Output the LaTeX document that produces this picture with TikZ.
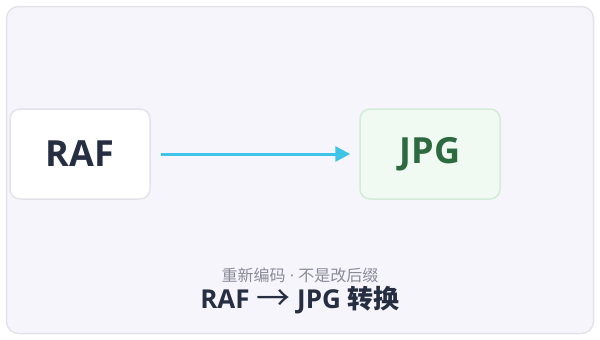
\documentclass[tikz,border=0pt]{standalone}
\usepackage{fontspec}
\setmainfont{Open Sans}
\newfontfamily\cjk{Noto Sans CJK SC}
\usetikzlibrary{arrows.meta}
\definecolor{pagebg}{HTML}{F6F5FB}
\definecolor{pageline}{HTML}{E3E3EC}
\definecolor{rawline}{HTML}{E2E4EA}
\definecolor{jpgfill}{HTML}{F0F9F2}
\definecolor{jpgline}{HTML}{D3ECD8}
\definecolor{jpgtext}{HTML}{2D6A40}
\definecolor{darktext}{HTML}{262E42}
\definecolor{subtext}{HTML}{8A8B99}
\definecolor{arrowblue}{HTML}{3FC4E8}
\tikzset{
  fmtbox/.style={rounded corners=10pt, line width=1.5pt, minimum width=140pt, minimum height=90pt, inner sep=0pt, font=\bfseries\fontsize{36}{40}\selectfont},
  flow/.style={line width=3pt, draw=arrowblue, -{Triangle[length=15pt,width=15pt]}}
}
\begin{document}
\begin{tikzpicture}[x=1pt,y=-1pt]
\useasboundingbox (0,0) rectangle (600,340);
\fill[white] (0,0) rectangle (600,340);
\draw[pageline, fill=pagebg, line width=1.5pt, rounded corners=12pt] (6.5,6.5) rectangle (593.5,333.5);
\node[fmtbox, draw=rawline, fill=white, text=darktext] (raf) at (80,154) {RAF};
\node[fmtbox, draw=jpgline, fill=jpgfill, text=jpgtext] (jpg) at (430,154) {JPG};
\draw[flow] ([xshift=10pt]raf.east) -- ([xshift=-9pt]jpg.west);
\node[text=subtext, font=\fontsize{16}{18}\selectfont, inner sep=0pt, anchor=base] (sub) at (300,281.5) {{\cjk 重新编码} · {\cjk 不是改后缀}};
\node[text=darktext, font=\bfseries\fontsize{26}{28}\selectfont, inner sep=0pt, anchor=base] (title) at (300,308.5) {RAF {\cjk\mdseries\fontsize{34}{34}\selectfont\smash{\raisebox{-1.5pt}{→}}} JPG {\cjk\smash{转换}}};
\end{tikzpicture}
\end{document}
